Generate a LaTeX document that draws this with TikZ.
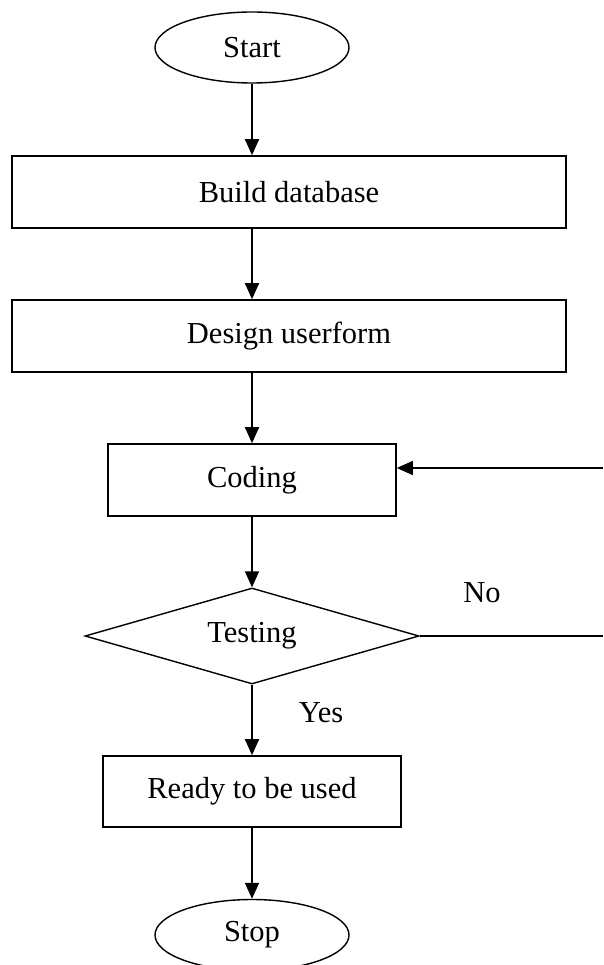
\documentclass[tikz,border=0pt]{standalone}
\usepackage{fontspec}
\setmainfont{Liberation Serif}
\usetikzlibrary{shapes.geometric,arrows.meta}
\begin{document}
\begin{tikzpicture}[x=1pt,y=-1pt,
  every node/.style={font=\fontsize{30.5}{36}\selectfont},
  box/.style={draw,line width=1.6pt,rectangle,inner sep=0pt},
  term/.style={draw,line width=1.4pt,ellipse,inner sep=0pt,minimum width=194pt,minimum height=71pt},
  decide/.style={draw,line width=1.4pt,diamond,aspect=3.5,inner sep=0pt,minimum width=334pt,minimum height=96pt},
  conn/.style={line width=1.6pt,-{Triangle[length=16pt,width=14pt]}},
  plain/.style={line width=1.6pt},
  lbl/.style={inner sep=0pt}]
\useasboundingbox (0,0) rectangle (603,965);
\node[term] (start) at (252,47.5) {Start};
\node[box,minimum width=554pt,minimum height=72pt] (build) at (289,192) {Build database};
\node[box,minimum width=554pt,minimum height=72pt] (design) at (289,336) {Design userform};
\node[box,minimum width=288pt,minimum height=72pt] (coding) at (252,480) {Coding};
\node[decide] (test) at (252,636) {Testing};
\node[box,minimum width=298pt,minimum height=71pt] (ready) at (252,791.5) {Ready to be used};
\node[term] (stop) at (252,935) {Stop};
\node[lbl] (no) at (482,593) {No};
\node[lbl] (yes) at (321,713) {Yes};
\coordinate (cin) at (603,468);
\coordinate (tout) at (603,636);
\draw[conn] (start.south) -- (start.south |- build.north);
\draw[conn] (start.south |- build.south) -- (start.south |- design.north);
\draw[conn] (coding.north |- design.south) -- (coding.north);
\draw[conn] (coding.south) -- (test.north);
\draw[conn] (test.south) -- (ready.north);
\draw[conn] (ready.south) -- (stop.north);
\draw[plain] (test.east) -- (tout);
\draw[conn] (cin) -- (cin -| coding.east);
\end{tikzpicture}
\end{document}
